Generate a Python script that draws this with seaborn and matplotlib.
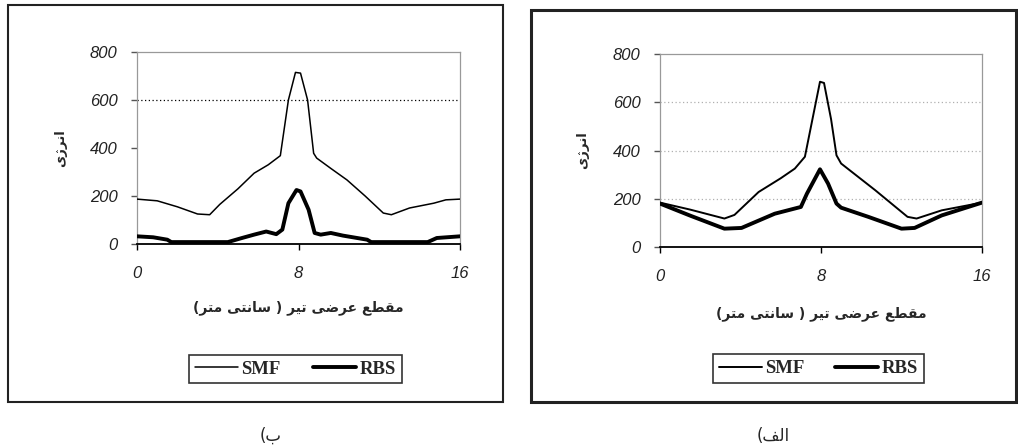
import matplotlib
matplotlib.use("Agg")
import matplotlib.pyplot as plt
import seaborn as sns
from matplotlib.patches import Rectangle
from matplotlib.font_manager import FontProperties

# panel (b) - left
b_smf_x = [0, 1.0, 2.0, 3.0, 3.6, 4.1, 5.0, 5.8, 6.5, 7.1, 7.5, 7.85, 8.1, 8.45, 8.75, 8.9, 9.6, 10.4, 11.3, 12.2, 12.6, 13.5, 14.7, 15.3, 16]
b_smf = [187, 180, 155, 125, 122, 165, 230, 295, 330, 368, 600, 715, 712, 600, 378, 358, 315, 267, 200, 129, 122, 150, 170, 184, 187]
b_rbs_x = [0, 0.8, 1.5, 1.7, 4.5, 5.2, 5.8, 6.4, 6.9, 7.2, 7.5, 7.9, 8.1, 8.5, 8.8, 9.1, 9.6, 10.2, 11.4, 11.6, 14.4, 14.85, 16]
b_rbs = [32, 28, 18, 8, 8, 25, 39, 52, 41, 60, 170, 225, 219, 143, 46, 39, 46, 35, 18, 8, 8, 25, 32]

# panel (alef) - right
a_smf_x = [0, 1.5, 3.2, 3.7, 4.9, 6.0, 6.7, 7.2, 7.6, 7.95, 8.15, 8.5, 8.77, 9.0, 10.7, 12.3, 12.75, 14.0, 16]
a_smf = [184, 155, 118, 133, 228, 285, 325, 374, 540, 685, 680, 530, 380, 346, 235, 125, 118, 152, 184]
a_rbs_x = [0, 1.5, 3.2, 4.05, 5.7, 7.0, 7.3, 7.95, 8.35, 8.77, 9.0, 10.35, 12.0, 12.65, 14.0, 16]
a_rbs = [180, 130, 76, 79, 138, 166, 221, 322, 263, 180, 163, 125, 76, 79, 131, 184]

x_ticks = [0, 8, 16]
y_ticks = [0, 200, 400, 600, 800]
series_names = ["SMF", "RBS"]
x_title = "مقطع عرضی تیر ( سانتی متر)"
y_title = "انرژی"
captions = ["ب)", "الف)"]

# matplotlib has no arabic shaping, so pick presentation forms by hand
FORMS4 = {
    "ب": "\ufe8f\ufe90\ufe91\ufe92", "ت": "\ufe95\ufe96\ufe97\ufe98",
    "س": "\ufeb1\ufeb2\ufeb3\ufeb4", "ض": "\ufebd\ufebe\ufebf\ufec0",
    "ط": "\ufec1\ufec2\ufec3\ufec4", "ع": "\ufec9\ufeca\ufecb\ufecc",
    "ف": "\ufed1\ufed2\ufed3\ufed4", "ق": "\ufed5\ufed6\ufed7\ufed8",
    "ل": "\ufedd\ufede\ufedf\ufee0", "م": "\ufee1\ufee2\ufee3\ufee4",
    "ن": "\ufee5\ufee6\ufee7\ufee8", "ی": "\ufbfc\ufbfd\ufbfe\ufbff",
}
FORMS2 = {"ا": "\ufe8d\ufe8e", "ر": "\ufead\ufeae", "ژ": "\ufb8a\ufb8b"}


def rtl(text):
    out = []
    for i, c in enumerate(text):
        prev = text[i - 1] if i > 0 else ""
        nxt = text[i + 1] if i + 1 < len(text) else ""
        pj = prev in FORMS4
        if c in FORMS2:
            out.append(FORMS2[c][1 if pj else 0])
        elif c in FORMS4:
            nj = nxt in FORMS4 or nxt in FORMS2
            idx = 3 if (pj and nj) else 1 if pj else 2 if nj else 0
            out.append(FORMS4[c][idx])
        else:
            out.append(c)
    mirror = {"(": ")", ")": "("}
    return "".join(mirror.get(c, c) for c in reversed(out))


sns.set_style("white")
plt.rcParams["font.family"] = ["DejaVu Sans"]

W, H = 1018, 446
fig = plt.figure(figsize=(W / 100, H / 100), dpi=100)


def px(x0, y_top, x1, y_bot):
    return [x0 / W, 1 - y_bot / H, (x1 - x0) / W, (y_bot - y_top) / H]


tick_font = FontProperties(family="Liberation Sans", style="italic", size=12)
leg_font = FontProperties(family="Liberation Serif", weight="bold", size=13.5)

panels = [
    dict(rect=px(137, 52, 460, 244), box=(8, 5, 503, 402), lw_box=1.5,
         smf=(b_smf_x, b_smf), rbs=(b_rbs_x, b_rbs), grid=[600], gcol="black",
         leg=(189, 352, 402, 386), cap=(271, 436), xl=-0.33, yl=-0.238, smf_lw=1.1),
    dict(rect=px(660, 54, 982, 247), box=(531, 10, 1016, 402), lw_box=2.2,
         smf=(a_smf_x, a_smf), rbs=(a_rbs_x, a_rbs), grid=[200, 400, 600], gcol="#b0b0b0",
         leg=(713, 353, 924, 384), cap=(773, 436), xl=-0.345, yl=-0.239, smf_lw=1.4),
]

for p, cap in zip(panels, captions):
    x0, y0, x1, y1 = p["box"]
    fig.patches.append(Rectangle((x0 / W, 1 - y1 / H), (x1 - x0) / W, (y1 - y0) / H,
                                 transform=fig.transFigure, fill=False,
                                 edgecolor="#222222", linewidth=p["lw_box"]))
    ax = fig.add_axes(p["rect"])
    for g in p["grid"]:
        ax.axhline(g, color=p["gcol"], linestyle=(0, (1, 2)), linewidth=0.9, zorder=1)
    sns.lineplot(x=p["smf"][0], y=p["smf"][1], color="black", linewidth=p["smf_lw"],
                 label=series_names[0], ax=ax, zorder=3)
    sns.lineplot(x=p["rbs"][0], y=p["rbs"][1], color="black", linewidth=2.8,
                 label=series_names[1], ax=ax, zorder=3)
    ax.set_xlim(0, 16)
    ax.set_ylim(0, 800)
    ax.set_xticks(x_ticks)
    ax.set_yticks(y_ticks)
    ax.set_xticklabels([str(t) for t in x_ticks], fontproperties=tick_font, color="#222222")
    ax.set_yticklabels([str(t) for t in y_ticks], fontproperties=tick_font, color="#222222")
    for s in ["top", "right", "left"]:
        ax.spines[s].set_color("#999999")
        ax.spines[s].set_linewidth(0.9)
    ax.spines["bottom"].set_color("black")
    ax.spines["bottom"].set_linewidth(1.3)
    ax.tick_params(axis="x", direction="out", length=4, width=1, color="black", pad=12, bottom=True)
    ax.tick_params(axis="y", direction="out", length=4, width=1, color="#555555", pad=10, left=True)

    ax.set_xlabel(rtl(x_title), fontsize=10, fontweight="bold")
    ax.xaxis.label.set_va("center")
    ax.xaxis.set_label_coords(0.5, p["xl"])
    ax.set_ylabel(rtl(y_title), fontsize=9.5, fontweight="bold")
    ax.yaxis.label.set_va("center")
    ax.yaxis.set_label_coords(p["yl"], 0.5)

    lx0, ly0, lx1, ly1 = p["leg"]
    leg = ax.legend(loc="center", bbox_to_anchor=(lx0 / W, 1 - ly1 / H, (lx1 - lx0) / W, (ly1 - ly0) / H),
                    bbox_transform=fig.transFigure, mode="expand", ncol=2, frameon=True,
                    fancybox=False, edgecolor="black", prop=leg_font, handlelength=2.3,
                    handletextpad=0.2, columnspacing=0.3, borderpad=0.3, borderaxespad=0)
    leg.get_frame().set_linewidth(1.2)

    fig.text(p["cap"][0] / W, 1 - p["cap"][1] / H, rtl(cap), ha="center", va="center",
             fontsize=12)

fig.savefig("out.png", dpi=100)
